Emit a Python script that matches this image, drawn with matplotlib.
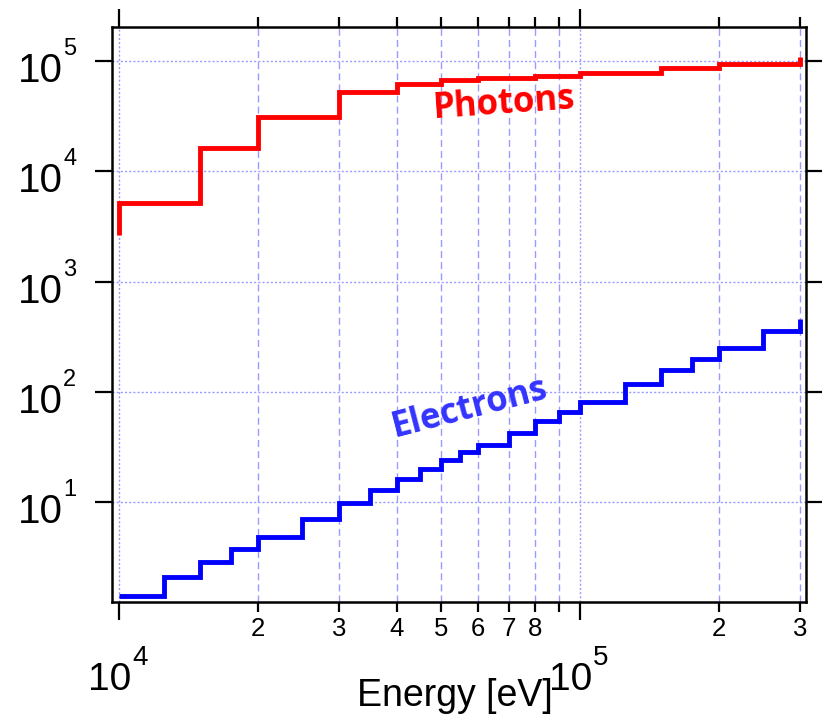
import matplotlib
matplotlib.use("Agg")
import matplotlib.pyplot as plt
from matplotlib.ticker import FixedLocator, FixedFormatter, NullLocator, NullFormatter
from matplotlib.transforms import ScaledTranslation, blended_transform_factory

plt.rcParams['font.family'] = ['Liberation Sans', 'DejaVu Sans']

# bin edges [eV] and step values
edges_ph = [1e4, 1.5e4, 2e4, 3e4, 4e4, 5e4, 6e4, 8e4, 1e5, 1.5e5, 2e5, 3e5]
photons = [5150, 16200, 30900, 51800, 61700, 66800, 70200, 73600, 77800, 85900, 94600]
photon_start, photon_end = 2650, 1.08e5

edges_el = [1e4, 1.25e4, 1.5e4, 1.75e4, 2e4, 2.5e4, 3e4, 3.5e4, 4e4, 4.5e4, 5e4, 5.5e4,
            6e4, 7e4, 8e4, 9e4, 1e5, 1.25e5, 1.5e5, 1.75e5, 2e5, 2.5e5, 3e5]
electrons = [1.41, 2.09, 2.87, 3.77, 4.82, 7.1, 9.8, 12.8, 16.4, 20.2, 24.2, 28.6,
             33.3, 42.8, 54.2, 65.9, 81.1, 117.5, 157, 200, 250, 355]
electron_start, electron_end = 1.41, 460

x_major = [1e4, 1e5]
x_major_exp = ['4', '5']
x_minor = [2e4, 3e4, 4e4, 5e4, 6e4, 7e4, 8e4, 9e4, 2e5, 3e5]
x_minor_labels = ['2', '3', '4', '5', '6', '7', '8', '', '2', '3']
y_major = [1e1, 1e2, 1e3, 1e4, 1e5]
y_major_exp = ['1', '2', '3', '4', '5']

fig = plt.figure(figsize=(8.22, 7.21), dpi=100)
ax = fig.add_axes([0.1363, 0.1651, 0.8442, 0.7975])

grid_c = '#9a9aff'

ax.plot([edges_ph[0]] + edges_ph, [photon_start] + photons + [photon_end],
        drawstyle='steps-post', color='#ff0000', lw=3.5,
        solid_capstyle='butt', solid_joinstyle='miter', zorder=3)
ax.plot([edges_el[0]] + edges_el, [electron_start] + electrons + [electron_end],
        drawstyle='steps-post', color='#0000ff', lw=3.5,
        solid_capstyle='butt', solid_joinstyle='miter', zorder=3)

ax.set_xscale('log')
ax.set_yscale('log')
ax.set_xlim(9656, 3.092e5)
ax.set_ylim(1.248, 2.03e5)

ax.xaxis.set_major_locator(FixedLocator(x_major))
ax.xaxis.set_major_formatter(NullFormatter())
ax.xaxis.set_minor_locator(FixedLocator(x_minor))
ax.xaxis.set_minor_formatter(FixedFormatter(x_minor_labels))
ax.yaxis.set_major_locator(FixedLocator(y_major))
ax.yaxis.set_major_formatter(NullFormatter())
ax.yaxis.set_minor_locator(NullLocator())

ax.grid(True, which='major', axis='both', color=grid_c, lw=1.0, linestyle=(0, (1.5, 1.5)))
ax.grid(True, which='minor', axis='x', color=grid_c, lw=1.0, linestyle=(0, (5, 3)))
ax.set_axisbelow(True)

for s in ax.spines.values():
    s.set_linewidth(1.8)

ax.tick_params(which='both', direction='out', top=True, right=True, width=1.6, colors='black')
ax.tick_params(axis='x', which='major', length=13)
ax.tick_params(axis='x', which='minor', length=7.5, labelsize=18.5, pad=3)
ax.tick_params(axis='y', which='major', length=12.5)


def px(dx, dy):
    return ScaledTranslation(dx / 100, dy / 100, fig.dpi_scale_trans)


# decade labels drawn as base + raised exponent
ty = blended_transform_factory(ax.transAxes, ax.transData)
for v, e in zip(y_major, y_major_exp):
    ax.text(0, v, '10', fontsize=29, ha='right', va='baseline',
            transform=ty + px(-49, -21))
    ax.text(0, v, e, fontsize=17, ha='left', va='baseline',
            transform=ty + px(-49, 6))

tx = blended_transform_factory(ax.transData, ax.transAxes)
for v, e in zip(x_major, x_major_exp):
    ax.text(v, 0, '10', fontsize=28, ha='right', va='baseline',
            transform=tx + px(12, -88))
    ax.text(v, 0, e, fontsize=20, ha='left', va='baseline',
            transform=tx + px(13, -63))

ax.set_xlabel('Energy [eV]', fontsize=27, va='top')
ax.xaxis.set_label_coords(0.494, -0.132)

ax.text(68400, 41000, 'Photons', color='#ff0000', fontsize=25, fontweight='bold',
        family=['Open Sans', 'DejaVu Sans'], rotation=4, rotation_mode='anchor',
        ha='center', va='center')
ax.text(57700, 71.7, 'Electrons', color='#3333ff', fontsize=25, fontweight='bold',
        family=['Open Sans', 'DejaVu Sans'], rotation=14.5, rotation_mode='anchor',
        ha='center', va='center')

fig.savefig('out.png', dpi=100)
